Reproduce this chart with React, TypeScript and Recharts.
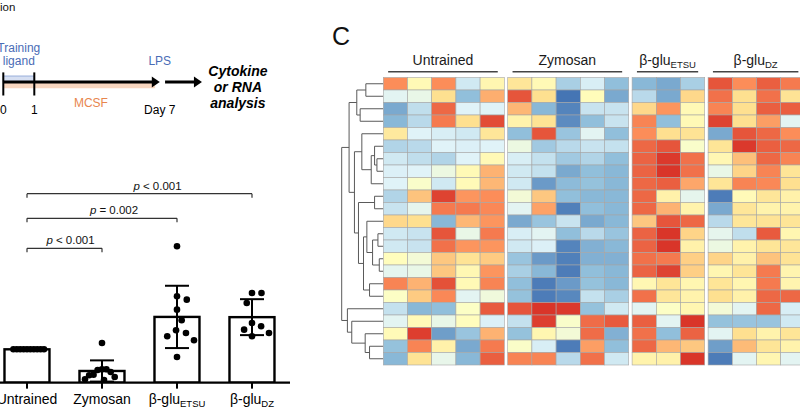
import React from "react";
import {
  ComposedChart,
  Bar,
  ErrorBar,
  Scatter,
  XAxis,
  YAxis,
  ReferenceLine,
  ReferenceArea,
} from "recharts";

const FONT = "'Liberation Sans', Arial, Helvetica, sans-serif";
const BLUE = "#4a6cb6";
const ORANGE = "#e8864e";

// ---------- panel A : protocol timeline ----------
const timePoints = [
  { day: 0, label: "0" },
  { day: 1, label: "1" },
  { day: 7, label: "Day 7" },
];
const trainingPhase = { label: ["Training", "ligand"], from: 0, to: 1 };
const culturePhase = { label: "MCSF", from: 0, to: 7 };
const stimulus = { label: "LPS", day: 7 };
const readout = ["Cytokine", "or RNA", "analysis"];

// ---------- panel B : fold change, dots = donors ----------
const groups = ["Untrained", "Zymosan", "β-glu|ETSU", "β-glu|DZ"];
const untrainedVals = [1, 1, 1, 1, 1, 1, 1, 1, 1, 1];
const zymosanVals = [1.19, 0.4, 0.4, 0.38, 0.32, 0.24, 0.22, 0.17, 0.1, 0.08];
const etsuVals = [4.09, 2.59, 2.49, 2.19, 1.87, 1.57, 1.49, 1.39, 1.27, 0.77];
const dzVals = [2.69, 2.69, 2.39, 1.79, 1.69, 1.59, 1.49, 1.39];
const comparisons = [
  { a: 0, b: 1, level: 4.03, p: "< 0.001" },
  { a: 0, b: 2, level: 4.93, p: "= 0.002" },
  { a: 0, b: 3, level: 5.67, p: "< 0.001" },
];

// ---------- panel C : heatmap (row z-scores) ----------
const hmUntrained = [
  [2.0, 0.2, 2.0, -1.2, 0.3],
  [-0.9, -0.7, 1.0, -2.0, 1.6],
  [-2.3, -1.4, 2.4, -1.0, -1.0],
  [-2.1, -1.5, 2.2, 1.0, 2.7],
  [0.7, -1.0, -1.1, -1.2, 0.8],
  [-1.6, -1.5, -1.0, -1.05, -1.0],
  [-1.2, -1.4, -1.6, -1.0, 0.2],
  [-1.05, -1.0, -0.6, 0.2, 1.55],
  [-1.0, -0.2, -1.2, 0.15, 1.5],
  [-1.6, 1.35, 2.8, 1.9, 2.0],
  [-1.3, -0.8, 2.2, 2.2, 2.05],
  [1.1, 1.0, -2.1, 1.5, 1.9],
  [-1.2, -1.3, 2.6, -0.7, 2.2],
  [-1.2, -1.3, 2.3, 1.9, 1.9],
  [0.05, -0.4, 1.3, 0.9, 1.25],
  [-0.85, -0.7, 1.3, 0.25, 1.9],
  [2.1, 1.55, 2.65, 0.2, 2.1],
  [-0.1, 1.25, 2.05, -0.9, -0.5],
  [-1.35, -2.1, -2.0, -0.1, 2.55],
  [-0.9, 0.15, -0.7, 0.05, -1.05],
  [0.15, 2.85, -2.45, -1.9, 1.55],
  [-1.95, 2.1, 0.45, -2.3, 2.2],
  [-2.1, 0.9, -0.75, -2.1, 2.5],
];
const hmZymosan = [
  [0.8, 0.2, -1.7, -1.1, -2.0],
  [2.6, 1.0, -3.0, 0.1, -2.3],
  [1.5, -2.1, -2.8, -1.3, -1.3],
  [0.4, 0.9, -2.7, -2.0, -1.3],
  [-2.0, 2.6, -1.9, -0.9, -2.0],
  [-0.6, -1.8, -1.5, -1.3, -1.35],
  [-1.1, -1.35, -1.8, -1.6, -2.0],
  [-1.2, -1.35, -2.3, -2.0, -2.1],
  [-1.2, -2.5, -2.05, -1.95, -2.1],
  [-0.4, 1.3, -2.0, -2.1, -2.1],
  [-0.9, 1.75, -2.85, -2.0, -2.1],
  [-2.3, -1.9, -1.3, -2.3, -2.1],
  [-1.1, -0.9, -2.0, -1.5, -1.9],
  [-1.2, -1.05, -2.8, -2.2, -2.1],
  [-1.9, -2.5, -2.85, -2.2, -2.2],
  [-1.7, -2.1, -2.9, -2.0, -2.1],
  [-2.0, -2.9, -2.5, -1.95, -2.1],
  [-1.95, -2.9, -2.75, -1.35, -1.7],
  [2.6, 2.95, 2.9, -1.95, -1.2],
  [-1.35, 2.85, -0.2, 2.35, 2.55],
  [-1.95, 0.3, -0.4, 2.35, -2.2],
  [-0.15, -1.1, -2.9, 1.8, -2.0],
  [2.1, 2.1, -1.5, 2.3, -1.2],
];
const hmEtsu = [
  [-2.1, -2.3, -1.7],
  [-1.5, -2.3, 1.1],
  [1.1, 1.9, 0.2],
  [2.1, -2.0, 0.2],
  [2.0, 1.0, 0.9],
  [2.4, 2.6, -0.2],
  [2.45, 2.9, 2.3],
  [2.45, 2.95, 2.3],
  [2.4, 2.5, 1.7],
  [2.4, 0.45, -0.8],
  [2.4, 1.55, 0.4],
  [1.3, 2.6, 2.4],
  [2.45, 2.95, 1.15],
  [2.45, 2.95, 0.45],
  [2.3, 2.2, 1.2],
  [2.45, 2.8, 1.2],
  [0.25, 0.85, 0.3],
  [2.3, 0.8, 0.4],
  [-0.9, -0.1, 0.3],
  [2.5, -0.9, 2.95],
  [2.3, -2.0, 2.45],
  [2.4, 1.5, 1.3],
  [0.4, 0.45, 2.95],
];
const hmDz = [
  [2.6, 2.0, 2.5, 2.2],
  [2.3, 1.0, 2.3, 0.9],
  [2.1, 1.0, 2.5, 2.5],
  [2.8, 1.0, 1.8, -0.9],
  [-2.3, 2.6, 2.4, 2.0],
  [0.85, 2.9, 2.5, 2.4],
  [0.25, 1.4, 2.4, 2.1],
  [-0.7, 1.15, 2.1, 0.85],
  [0.85, 2.1, 2.05, 1.0],
  [-2.9, 0.15, 0.8, 0.45],
  [-2.3, 0.8, 0.4, 0.4],
  [-1.5, 0.8, 0.9, 0.85],
  [-0.8, -1.4, 2.55, 0.3],
  [-0.6, 0.4, 0.85, 0.8],
  [1.15, 0.45, 1.35, 0.9],
  [0.3, 0.85, 2.2, 0.35],
  [0.85, 0.3, 2.2, 0.35],
  [1.0, 0.45, 2.4, 2.4],
  [-0.4, -0.9, 2.4, -1.1],
  [-1.95, -1.9, -1.9, -1.2],
  [-0.9, 1.0, 0.4, 0.85],
  [-2.45, 1.45, 0.85, 0.4],
  [-2.9, -0.9, 0.3, -0.9],
];
// row clustering: [merge height, left, right]; leaves are row indices
type Tree = number | [number, Tree, Tree];
const rowTree: Tree = [124,
  [102,
    [79, [52, 0, 1], [69, 2, 3]],
    [86,
      [64, 4, [36, [26, 5, [19, 6, 7]], 8]],
      [74, [26, 9, 10], [59, [49, 11, [32, [16, 12, 13], [12, 14, 15]]], [41, 16, 17]]],
    ],
  ],
  [107, 18, [94, 19, [54, 20, [41, 21, 22]]]],
];

// pheatmap default palette (rev RdYlBu, 7 stops) over -3..3
const RAMP = ["#4575B4", "#91BFDB", "#E0F3F8", "#FFFFBF", "#FEE090", "#FC8D59", "#D73027"];
const hex = (h: string) => [1, 3, 5].map((i) => parseInt(h.slice(i, i + 2), 16));
function heatColor(v: number) {
  const t = Math.max(0, Math.min(6, v + 3));
  const i = Math.min(5, Math.floor(t));
  const f = t - i;
  const a = hex(RAMP[i]);
  const b = hex(RAMP[i + 1]);
  const c = a.map((x, k) => Math.round(x + (b[k] - x) * f));
  return `rgb(${c[0]},${c[1]},${c[2]})`;
}

const noMargin = { top: 0, right: 0, bottom: 0, left: 0 };

// generic text mark (label|subscript)
function textShape(p: any) {
  const d = p.payload;
  const [main, sub] = String(d.t).split("|");
  return (
    <text
      x={p.cx}
      y={p.cy}
      textAnchor="middle"
      dominantBaseline={d.base || "central"}
      fontSize={d.size}
      fill={d.color || "#000"}
      fontWeight={d.bold ? 700 : 400}
      fontStyle={d.italic ? "italic" : "normal"}
      fontFamily={FONT}
    >
      {main}
      {sub ? (
        <tspan fontSize={d.size * 0.68} dy={3}>
          {sub}
        </tspan>
      ) : null}
    </text>
  );
}

// ---------------- panel A ----------------
// the schematic is not drawn to scale: days are warped
const warp = (d: number) => Math.pow(d, 0.832);

function TimelinePanel() {
  const W = 300, H = 110, PX = 31, X0 = 3.3, UNIT = 6, LINE = 62;
  const xd: [number, number] = [-X0 / PX, (W - X0) / PX];
  const yd: [number, number] = [-(H - LINE) / UNIT, LINE / UNIT];
  const end = warp(culturePhase.to);
  const rStart = end + 0.17;
  const rTip = end + 1.36;
  const rText = end + 2.52;
  const tMid = (warp(trainingPhase.from) + warp(trainingPhase.to)) / 2;

  const texts: any[] = [
    { x: tMid, y: 5.75, t: trainingPhase.label[0], size: 12, color: BLUE },
    { x: tMid, y: 3.45, t: trainingPhase.label[1], size: 12, color: BLUE },
    { x: warp(stimulus.day), y: 3.45, t: stimulus.label, size: 12, color: BLUE },
    { x: warp(culturePhase.from) + 0.56 * (end - warp(culturePhase.from)), y: -3.55, t: culturePhase.label, size: 12, color: ORANGE },
    ...timePoints.map((tp) => ({ x: warp(tp.day), y: -4.67, t: tp.label, size: 12 })),
    ...readout.map((t, i) => ({ x: rText, y: 1.88 - i * 2.65, t, size: 14, bold: true, italic: true })),
  ];
  const tips = [{ x: end, y: 0 }, { x: rTip, y: 0 }];
  const arrowHead = (p: any) => (
    <polygon
      points={`${p.cx},${p.cy} ${p.cx - 8},${p.cy - 5.6} ${p.cx - 8},${p.cy + 5.6}`}
      fill="#000"
    />
  );

  return (
    <ComposedChart width={W} height={H} margin={noMargin}>
      <XAxis type="number" dataKey="x" hide domain={xd} allowDataOverflow />
      <YAxis type="number" hide domain={yd} allowDataOverflow />
      <ReferenceArea x1={warp(culturePhase.from)} x2={end - 0.15} y1={-1.05} y2={0} fill="#f9d7c0" fillOpacity={1} stroke="none" />
      <ReferenceArea x1={warp(trainingPhase.from)} x2={warp(trainingPhase.to)} y1={0} y2={1} fill="#d6dff2" fillOpacity={1} stroke="#87a0d3" strokeWidth={0.8} />
      <ReferenceLine segment={[{ x: warp(0), y: 0 }, { x: end - 0.15, y: 0 }]} stroke="#000" strokeWidth={3} />
      <ReferenceLine segment={[{ x: rStart, y: 0 }, { x: rTip - 0.15, y: 0 }]} stroke="#000" strokeWidth={3} />
      {timePoints
        .filter((tp) => tp.day < culturePhase.to)
        .map((tp) => (
          <ReferenceLine
            key={tp.label}
            segment={[{ x: warp(tp.day), y: -2.25 }, { x: warp(tp.day), y: 1.6 }]}
            stroke="#000"
            strokeWidth={2}
          />
        ))}
      <Scatter data={tips} dataKey="y" shape={arrowHead} isAnimationActive={false} />
      <Scatter data={texts} dataKey="y" shape={textShape} isAnimationActive={false} />
    </ComposedChart>
  );
}

// ---------------- panel B ----------------
const B_PX_X = 75;
const B_PX_Y = 33.33;
const B_W = 340;
const B_PAD_L = 77;
const B_Y_MAX = 6.5;
const B_PLOT_H = B_Y_MAX * B_PX_Y;
const B_AXIS_H = 36;
const B_BAR_W = 45;

const mean = (v: number[]) => v.reduce((s, x) => s + x, 0) / v.length;
const sd = (v: number[]) => {
  const m = mean(v);
  return Math.sqrt(v.reduce((s, x) => s + (x - m) * (x - m), 0) / (v.length - 1));
};

// simple beeswarm so dots with close values spread sideways
function swarm(values: number[], minDist = 12, limit = 17) {
  const placed: { x: number; y: number }[] = [];
  const out = new Array(values.length).fill(0);
  const order = values.map((v, i) => ({ v, i })).sort((a, b) => b.v - a.v);
  for (const { v, i } of order) {
    const y = v * B_PX_Y;
    const cands = [0];
    for (const p of placed) {
      const dy = Math.abs(p.y - y);
      if (dy < minDist) {
        const dx = Math.sqrt(minDist * minDist - dy * dy);
        cands.push(p.x + dx, p.x - dx);
      }
    }
    cands.sort((a, b) => Math.abs(a) - Math.abs(b));
    const ok =
      cands.find((c) =>
        placed.every((p) => (p.x - c) ** 2 + (p.y - y) ** 2 >= minDist * minDist - 0.01)
      ) ?? 0;
    placed.push({ x: ok, y });
    out[i] = ok;
  }
  const maxAbs = Math.max(...out.map(Math.abs), 0.0001);
  const k = maxAbs > limit ? limit / maxAbs : 1;
  return out.map((o) => (o * k) / B_PX_X);
}

function CatTick(p: any) {
  const [main, sub] = groups[Math.round(p.payload.value)].split("|");
  return (
    <text x={p.x} y={p.y} dy="0.71em" textAnchor="middle" fontSize={14} fontFamily={FONT} fill="#000">
      {main}
      {sub ? (
        <tspan fontSize={9.5} dy={3}>
          {sub}
        </tspan>
      ) : null}
    </text>
  );
}

// bar drawn around the centre Recharts computes for it
function barShape(p: any) {
  const w = Number.isFinite(p.width) ? p.width : 0;
  const cx = p.x + w / 2;
  return (
    <rect
      x={cx - B_BAR_W / 2}
      y={p.y}
      width={B_BAR_W}
      height={Math.max(0, p.height)}
      fill="#fff"
      stroke="#000"
      strokeWidth={2.4}
    />
  );
}

function BarPanel() {
  const series = [untrainedVals, zymosanVals, etsuVals, dzVals];
  const barData = series.map((v, i) => ({ x: i, mean: mean(v), sd: sd(v) }));
  const dots = series.flatMap((v, i) => {
    const off = swarm(v);
    return v.map((y, k) => ({ x: i + off[k], y }));
  });
  const tick = 4 / B_PX_Y;
  const pLabels = comparisons.map((c) => ({
    x: c.a + 0.58 * (c.b - c.a),
    y: c.level + 4 / B_PX_Y,
    p: c.p,
  }));
  const dotShape = (p: any) => <circle cx={p.cx} cy={p.cy} r={3.3} fill="#000" />;
  const pShape = (p: any) => (
    <text x={p.cx} y={p.cy} textAnchor="middle" fontSize={11.5} fontFamily={FONT} fill="#111">
      <tspan fontStyle="italic">p</tspan>
      {" " + p.payload.p}
    </text>
  );

  return (
    <ComposedChart width={B_W} height={B_PLOT_H + B_AXIS_H} data={barData} margin={noMargin}>
      <XAxis
        dataKey="x"
        type="number"
        domain={[-B_PAD_L / B_PX_X, (B_W - B_PAD_L) / B_PX_X]}
        allowDataOverflow
        ticks={[0, 1, 2, 3]}
        interval={0}
        height={B_AXIS_H}
        tickSize={6}
        tickMargin={5}
        axisLine={{ stroke: "#000", strokeWidth: 2.2 }}
        tickLine={{ stroke: "#000", strokeWidth: 2 }}
        tick={CatTick}
      />
      <YAxis type="number" hide domain={[0, B_Y_MAX]} allowDataOverflow />
      <Bar dataKey="mean" barSize={B_BAR_W} shape={barShape} fill="#fff" stroke="#000" strokeWidth={2.3} isAnimationActive={false}>
        <ErrorBar dataKey="sd" width={12} stroke="#000" strokeWidth={2} direction="y" />
      </Bar>
      <Scatter data={dots} dataKey="y" shape={dotShape} isAnimationActive={false} />
      {comparisons.map((c, i) => (
        <React.Fragment key={i}>
          <ReferenceLine segment={[{ x: c.a, y: c.level }, { x: c.b, y: c.level }]} stroke="#333" strokeWidth={1.2} />
          <ReferenceLine segment={[{ x: c.a, y: c.level }, { x: c.a, y: c.level - tick }]} stroke="#333" strokeWidth={1.2} />
          <ReferenceLine segment={[{ x: c.b, y: c.level }, { x: c.b, y: c.level - tick }]} stroke="#333" strokeWidth={1.2} />
        </React.Fragment>
      ))}
      <Scatter data={pLabels} dataKey="y" shape={pShape} isAnimationActive={false} />
    </ComposedChart>
  );
}

// ---------------- panel C ----------------
const CELL_W = 24.2;
const CELL_H = 12.5;
const GROUP_GAP = 3.4 / CELL_W;
const H_PAD_X = 53.3;
const H_PAD_Y = 47.5;
const H_W = 476;
const H_H = 338;
const DENDRO_W = 41.6 / CELL_W;

function HeatPanel() {
  const mats = [hmUntrained, hmZymosan, hmEtsu, hmDz];
  const offsets: number[] = [];
  let acc = 0;
  mats.forEach((m, g) => {
    offsets.push(acc + g * GROUP_GAP);
    acc += m[0].length;
  });
  const cells = mats.flatMap((m, g) =>
    m.flatMap((row, r) => row.map((v, j) => ({ x: offsets[g] + j + 0.5, y: r + 0.5, v })))
  );
  const cellShape = (p: any) => (
    <rect
      x={p.cx - CELL_W / 2}
      y={p.cy - CELL_H / 2}
      width={CELL_W}
      height={CELL_H}
      fill={heatColor(p.payload.v)}
      stroke="#a6a6a6"
      strokeWidth={0.6}
    />
  );

  // dendrogram segments
  let maxH = 0;
  const scan = (n: Tree) => {
    if (typeof n !== "number") {
      maxH = Math.max(maxH, n[0]);
      scan(n[1]);
      scan(n[2]);
    }
  };
  scan(rowTree);
  const hx = (h: number) => (-h / maxH) * DENDRO_W;
  const segs: { x1: number; y1: number; x2: number; y2: number }[] = [];
  const lay = (n: Tree): { y: number; h: number } => {
    if (typeof n === "number") return { y: n + 0.5, h: 0 };
    const [h, a, b] = n;
    const la = lay(a);
    const lb = lay(b);
    segs.push({ x1: hx(h), y1: la.y, x2: hx(h), y2: lb.y });
    segs.push({ x1: hx(h), y1: la.y, x2: hx(la.h), y2: la.y });
    segs.push({ x1: hx(h), y1: lb.y, x2: hx(lb.h), y2: lb.y });
    return { y: (la.y + lb.y) / 2, h };
  };
  lay(rowTree);

  const headers = mats.map((m, g) => {
    const x1 = offsets[g] + 0.2;
    const x2 = offsets[g] + m[0].length - 0.27;
    return { x1, x2, t: groups[g] };
  });
  const headerTexts = headers.map((h) => ({
    x: (h.x1 + h.x2) / 2,
    y: -1.02,
    t: h.t,
    size: 14,
    base: "alphabetic",
    color: "#1a1a1a",
  }));

  return (
    <ComposedChart width={H_W} height={H_H} margin={noMargin}>
      <XAxis
        type="number"
        dataKey="x"
        hide
        domain={[-H_PAD_X / CELL_W, (H_W - H_PAD_X) / CELL_W]}
        allowDataOverflow
      />
      <YAxis
        type="number"
        hide
        reversed
        domain={[-H_PAD_Y / CELL_H, (H_H - H_PAD_Y) / CELL_H]}
        allowDataOverflow
      />
      <Scatter data={cells} dataKey="y" shape={cellShape} isAnimationActive={false} />
      {segs.map((s, i) => (
        <ReferenceLine
          key={"d" + i}
          segment={[{ x: s.x1, y: s.y1 }, { x: s.x2, y: s.y2 }]}
          stroke="#5a5a5a"
          strokeWidth={1}
        />
      ))}
      {headers.map((h, i) => (
        <ReferenceLine
          key={"h" + i}
          segment={[{ x: h.x1, y: -0.456 }, { x: h.x2, y: -0.456 }]}
          stroke="#444"
          strokeWidth={1.4}
        />
      ))}
      <Scatter data={headerTexts} dataKey="y" shape={textShape} isAnimationActive={false} />
    </ComposedChart>
  );
}

export default function App() {
  return (
    <div
      style={{
        position: "absolute",
        left: 0,
        top: 0,
        width: 800,
        height: 419,
        overflow: "hidden",
        background: "#fff",
        fontFamily: FONT,
      }}
    >
      <div style={{ position: "absolute", left: 0, top: 1, fontSize: 11.5, color: "#111" }}>ion</div>
      <div style={{ position: "absolute", left: 0, top: 20 }}>
        <TimelinePanel />
      </div>
      <div style={{ position: "absolute", left: 27 - B_PAD_L, top: 382.3 - B_PLOT_H }}>
        <BarPanel />
      </div>
      <div style={{ position: "absolute", left: 332, top: 22, fontSize: 25, color: "#111" }}>C</div>
      <div style={{ position: "absolute", left: 330, top: 30.2 }}>
        <HeatPanel />
      </div>
    </div>
  );
}
